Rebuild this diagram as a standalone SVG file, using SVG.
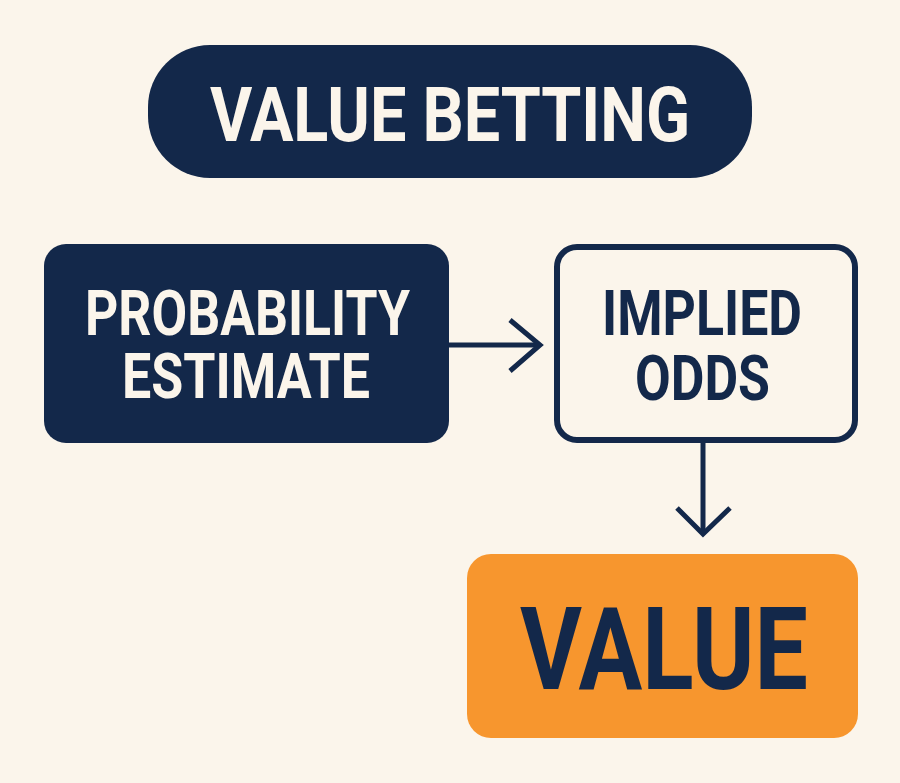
<svg xmlns="http://www.w3.org/2000/svg" width="900" height="783" viewBox="0 0 900 783">
<style>
.t{font-family:Roboto,"Liberation Sans",sans-serif;font-weight:700;text-anchor:middle}
.light{fill:#FBF5EB}
.dark{fill:#13284A}
.conn{stroke:#13284A;stroke-width:5;fill:none;stroke-linecap:butt;stroke-linejoin:miter}
</style>
<rect width="900" height="783" fill="#FBF5EB"/>
<g id="title">
<rect x="148" y="45" width="604" height="133" rx="62" fill="#13284A"/>
<text class="t light" x="450" y="141" font-size="76" textLength="480" lengthAdjust="spacingAndGlyphs">VALUE BETTING</text>
</g>
<g id="probability">
<rect x="44" y="244" width="405" height="199" rx="22" fill="#13284A"/>
<text class="t light" x="247.5" y="335" font-size="63" textLength="325" lengthAdjust="spacingAndGlyphs">PROBABILITY</text>
<text class="t light" x="246" y="398" font-size="63" textLength="248" lengthAdjust="spacingAndGlyphs">ESTIMATE</text>
</g>
<g id="implied">
<rect x="557" y="247" width="298" height="193" rx="20" fill="#FBF5EB" stroke="#13284A" stroke-width="6"/>
<text class="t dark" x="702" y="335" font-size="63" textLength="200" lengthAdjust="spacingAndGlyphs">IMPLIED</text>
<text class="t dark" x="702.5" y="400" font-size="63" textLength="135" lengthAdjust="spacingAndGlyphs">ODDS</text>
</g>
<g id="value">
<rect x="467" y="554" width="391" height="184" rx="24" fill="#F7962E"/>
<text class="t dark" x="664" y="689" font-size="115" textLength="288" lengthAdjust="spacingAndGlyphs">VALUE</text>
</g>
<g id="connectors">
<line class="conn" x1="449" y1="345" x2="539" y2="345"/>
<polyline class="conn" points="510,320 540,345 510,371"/>
<line class="conn" x1="703" y1="443" x2="703" y2="534"/>
<polyline class="conn" points="677,508 703,534 730,508"/>
</g>
</svg>
